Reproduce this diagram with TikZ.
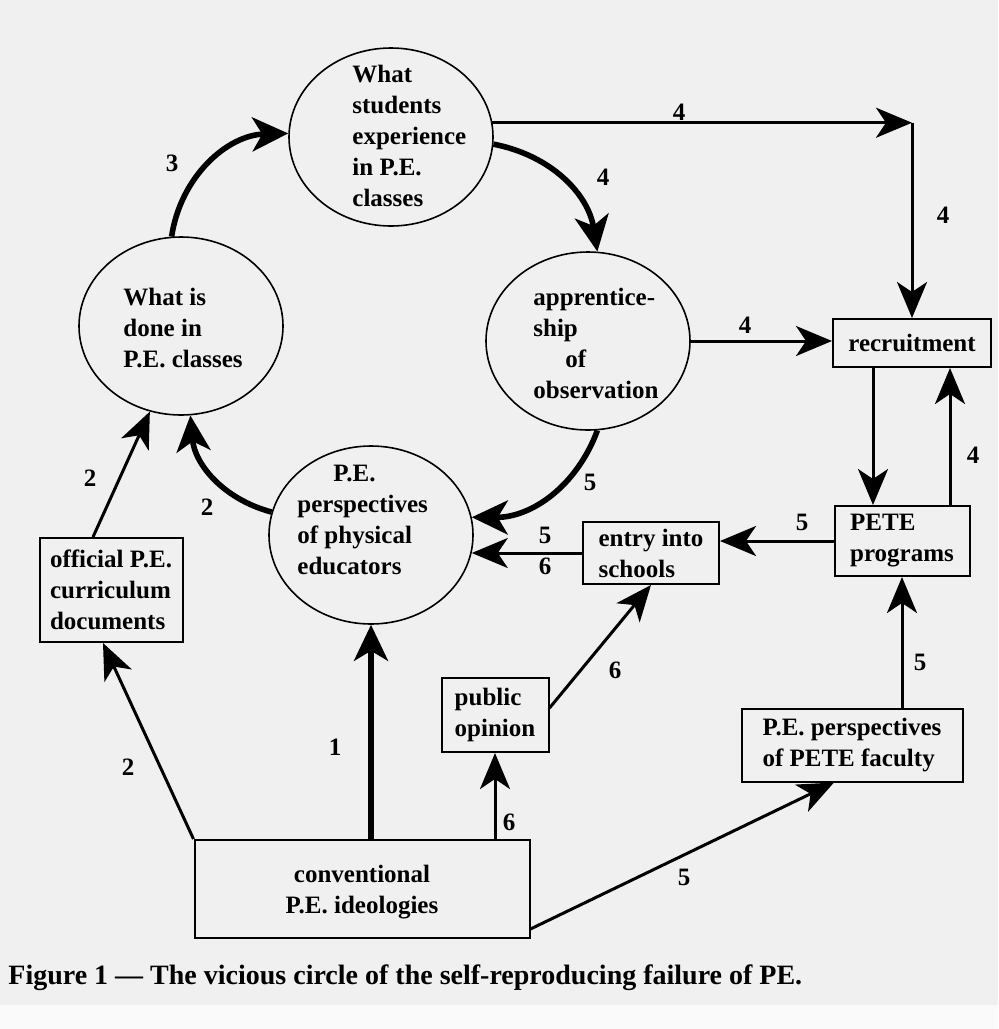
\documentclass[tikz,border=0pt]{standalone}
\usepackage{fontspec}
\setmainfont{Liberation Serif}
\usetikzlibrary{arrows.meta,shapes.geometric,calc}

\begin{document}
\begin{tikzpicture}[x=0.5pt,y=-0.5pt,font=\fontsize{12.5pt}{15.5pt}\selectfont\bfseries,
  round/.style={draw,ellipse,line width=0.8pt,minimum width=102pt,minimum height=89pt,inner sep=0pt},
  box/.style={draw,rectangle,line width=1pt,align=left,inner sep=0pt},
  words/.style={align=left,inner sep=0pt,anchor=west},
  arr/.style={line width=1.5pt,-{Stealth[length=18pt,width=15pt,inset=5pt]}},
  fat/.style={line width=2.8pt,-{Stealth[length=18pt,width=17pt,inset=5pt]}},
  num/.style={inner sep=0pt}]
  \useasboundingbox (0,0) rectangle (998,1029);
  \fill[black!6] (0,0) rectangle (998,1005);
  \fill[black!2] (0,1005) rectangle (998,1029);

  \node[round] (experience) at (391,137) {};
  \node[words] (experience-t) at (352,136) {What\\students\\experience\\in P.E.\\classes};
  \node[round] (whatdone) at (181,326) {};
  \node[words] (whatdone-t) at (123,328) {What is\\done in\\P.E. classes};
  \node[round] (apprent) at (588,341) {};
  \node[words] (apprent-t) at (533,343) {apprentice-\\ship\\\hspace*{16pt}of\\observation};
  \node[round] (perspect) at (371,535) {};
  \node[words] (perspect-t) at (297,520) {\hspace*{18pt}P.E.\\perspectives\\of physical\\educators};

  \node[box,minimum width=79pt,minimum height=24pt] (recruit) at (912,343) {recruitment};
  \node[box,minimum width=67.5pt,minimum height=35pt] (pete) at (902,541) {PETE\\programs};
  \node[box,minimum width=68pt,minimum height=31pt] (entry) at (651,553) {entry into\\schools};
  \node[box,minimum width=53.5pt,minimum height=37pt] (opinion) at (495,715) {public\\opinion};
  \node[box,minimum width=110.5pt,minimum height=36.5pt] (faculty) at (852,745) {P.E. perspectives\\of PETE faculty};
  \node[box,minimum width=71.5pt,minimum height=52pt] (official) at (111,590) {official P.E.\\curriculum\\documents};
  \node[box,align=center,minimum width=167.5pt,minimum height=49pt,text depth=-8pt] (ideol) at (362,889) {conventional\\P.E. ideologies};

  \draw[fat] (whatdone.96) to[bend left=40] (experience.178);
  \draw[fat] (experience.-4) to[bend left=35] (apprent.84);
  \draw[fat] (apprent.-84) to[bend left=35] (perspect.10);
  \draw[fat] (perspect.167) to[bend left=35] (whatdone.-84);
  \draw[fat] (ideol.north -| perspect.south) -- (perspect.south);

  \coordinate (turn) at (experience.8 -| recruit.north);
  \coordinate (down) at ($(recruit.south)+(-39,0)$);
  \coordinate (up) at ($(recruit.south)+(38,0)$);
  \draw[arr] (experience.8) -- (turn);
  \draw[arr] (turn) -- (recruit.north);
  \draw[arr] (apprent.east) -- (recruit.west |- apprent.east);
  \draw[arr] (down) -- (down |- pete.north);
  \draw[arr] (up |- pete.north) -- (up);
  \draw[arr] (pete.west) -- (entry.east |- pete.west);
  \draw[arr] (entry.west) -- (perspect.-10 |- entry.west);
  \draw[arr] ($(opinion.east)+(0,-7)$) -- (entry.south);
  \draw[arr] (opinion.south |- ideol.north) -- (opinion.south);
  \draw[arr] ($(ideol.south east)+(0,-10)$) -- ($(faculty.south)+(-18,0)$);
  \draw[arr] (faculty.north -| pete.south) -- (pete.south);
  \draw[arr] (ideol.north west) -- ($(official.south)+(-8,0)$);
  \draw[arr] ($(official.north)+(-18,0)$) -- (whatdone.-110);

  \node[num] (n3) at (172,163) {3};
  \node[num] (n4a) at (679,112) {4};
  \node[num] (n4b) at (603,177) {4};
  \node[num] (n4c) at (943,215) {4};
  \node[num] (n4d) at (745,325) {4};
  \node[num] (n4e) at (973,455) {4};
  \node[num] (n5a) at (590,482) {5};
  \node[num] (n5b) at (802,522) {5};
  \node[num] (n5c) at (545,535) {5};
  \node[num] (n6a) at (545,566) {6};
  \node[num] (n6b) at (615,670) {6};
  \node[num] (n5d) at (920,662) {5};
  \node[num] (n2a) at (90,478) {2};
  \node[num] (n2b) at (207,507) {2};
  \node[num] (n1) at (335,747) {1};
  \node[num] (n2c) at (128,767) {2};
  \node[num] (n6c) at (509,822) {6};
  \node[num] (n5e) at (684,877) {5};

  \node[anchor=west,inner sep=0pt,font=\fontsize{14pt}{16pt}\selectfont\bfseries] (caption) at (8,978) {Figure 1 --- The vicious circle of the self-reproducing failure of PE.};
\end{tikzpicture}
\end{document}
